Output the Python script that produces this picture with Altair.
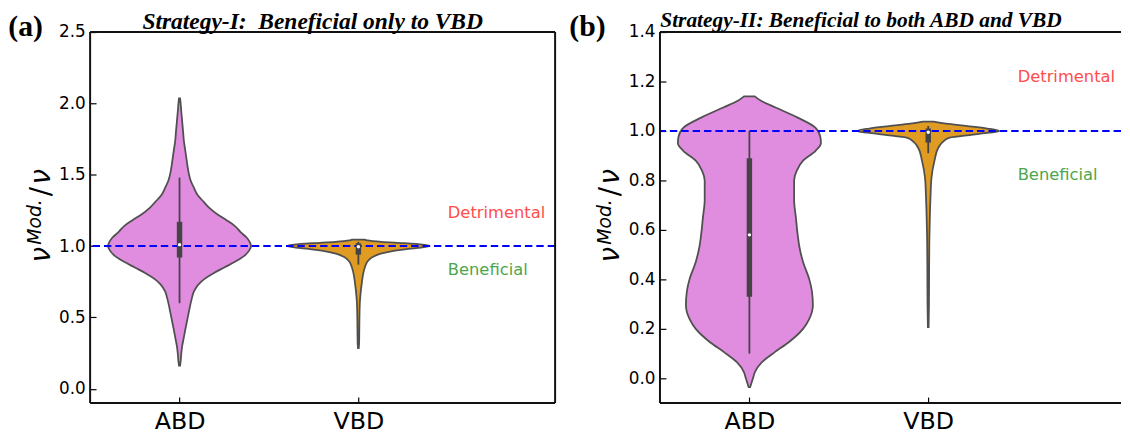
import altair as alt
import pandas as pd

# ---------------- values ----------------
# violin outlines: y value and half width (in category units)
A_ABD_Y  = [0.163, 0.19, 0.25, 0.30, 0.36, 0.42, 0.50, 0.57, 0.63, 0.68, 0.73, 0.77, 0.81, 0.85, 0.89,
            0.93, 0.97, 1.00, 1.03, 1.06, 1.10, 1.14, 1.18, 1.22, 1.27, 1.31, 1.36, 1.41, 1.46, 1.52,
            1.60, 1.67, 1.74, 1.80, 1.87, 1.94, 2.00, 2.035]
A_ABD_HW = [0.003, 0.006, 0.010, 0.015, 0.024, 0.033, 0.046, 0.057, 0.068, 0.080, 0.105, 0.14, 0.19, 0.25, 0.31,
            0.36, 0.39, 0.40, 0.392, 0.375, 0.34, 0.31, 0.265, 0.215, 0.165, 0.135, 0.10, 0.08, 0.062, 0.05,
            0.04, 0.032, 0.024, 0.02, 0.015, 0.01, 0.006, 0.003]

A_VBD_Y  = [0.285, 0.32, 0.40, 0.50, 0.60, 0.65, 0.70, 0.75, 0.80, 0.85, 0.89, 0.92, 0.945, 0.965, 0.98,
            0.99, 1.00, 1.01, 1.02, 1.03, 1.04, 1.045]
A_VBD_HW = [0.002, 0.004, 0.005, 0.006, 0.008, 0.011, 0.015, 0.020, 0.026, 0.036, 0.05, 0.075, 0.12, 0.19, 0.28,
            0.35, 0.40, 0.36, 0.26, 0.13, 0.05, 0.035]

B_ABD_Y  = [-0.036, 0.0, 0.024, 0.065, 0.105, 0.146, 0.20, 0.24, 0.295, 0.35, 0.40, 0.47, 0.53, 0.58, 0.65,
            0.72, 0.80, 0.84, 0.88, 0.92, 0.95, 0.975, 1.013, 1.054, 1.095, 1.12, 1.14]
B_ABD_HW = [0.004, 0.02, 0.03, 0.07, 0.14, 0.22, 0.30, 0.335, 0.355, 0.35, 0.335, 0.30, 0.28, 0.27, 0.26,
            0.25, 0.25, 0.265, 0.30, 0.37, 0.40, 0.397, 0.37, 0.27, 0.146, 0.07, 0.03]

B_VBD_Y  = [0.207, 0.30, 0.45, 0.55, 0.62, 0.68, 0.74, 0.81, 0.88, 0.93, 0.955, 0.973, 0.985, 0.993, 1.00,
            1.01, 1.02, 1.03, 1.038]
B_VBD_HW = [0.002, 0.004, 0.005, 0.006, 0.008, 0.010, 0.013, 0.018, 0.035, 0.055, 0.08, 0.12, 0.25, 0.34, 0.397,
            0.33, 0.22, 0.10, 0.03]

# inner box statistics: whisker low, q1, median, q3, whisker high
A_BOX = {"ABD": [0.60, 0.92, 1.01, 1.17, 1.48], "VBD": [0.87, 0.94, 0.995, 1.02, 1.03]}
B_BOX = {"ABD": [0.10, 0.33, 0.58, 0.89, 1.00], "VBD": [0.91, 0.953, 0.995, 1.01, 1.02]}

CATEGORIES = ["ABD", "VBD"]
A_YTICKS = [0.0, 0.5, 1.0, 1.5, 2.0, 2.5]
B_YTICKS = [0.0, 0.2, 0.4, 0.6, 0.8, 1.0, 1.2, 1.4]
A_YDOMAIN = [-0.1, 2.5]
B_YDOMAIN = [-0.1, 1.4]
REF_LINE = 1.0
ZONE_LABELS = ["Detrimental", "Beneficial"]
ZONE_Y = [1.2, 0.8]
ZONE_X = 1.5
TITLE_A = "Strategy-I:\u00a0 Beneficial only to VBD"
TITLE_B = "Strategy-II: Beneficial to both ABD and VBD"

# ---------------- style ----------------
VIOLET = "#E08DE0"
ORANGE = "#E09C22"
OUTLINE = "#505050"
INNER = "#444444"
FRAME = "#111111"
H = 375
W_A = 470
W_B = 466
PX_PER_UNIT = W_A / 2.6
XDOM_A = [-0.5, 2.1]
XDOM_B = [-0.5, -0.5 + W_B / PX_PER_UNIT]


def make_panel(yv_list, box, ydomain, yticks, xdomain, width, title, title_fs, title_y,
               tag, tag_dx, title_dx):
    xscale = alt.Scale(domain=xdomain, nice=False, zero=False)
    yscale = alt.Scale(domain=ydomain, nice=False, zero=False)
    xaxis = alt.Axis(values=[0, 1], labelExpr="datum.value == 0 ? 'ABD' : 'VBD'", title=None,
                     domain=False, grid=False, tickSize=6, offset=-6, tickColor="#000", tickWidth=1.2,
                     labelFont="DejaVu Sans", labelFontSize=24, labelColor="#000", labelPadding=7)
    yaxis = alt.Axis(values=yticks, format=".1f", title=None, domain=False, grid=False,
                     tickSize=6, offset=-6, tickColor="#000", tickWidth=1.2,
                     labelFont="DejaVu Sans", labelFontSize=17, labelColor="#000", labelPadding=5)

    def X(f):
        return alt.X(f, type="quantitative", scale=xscale, axis=xaxis)

    def Y(f):
        return alt.Y(f, type="quantitative", scale=yscale, axis=yaxis)

    layers = []
    for center, (ys, hws, fill) in enumerate(yv_list):
        df = pd.DataFrame({"y": ys,
                           "lo": [center - h for h in hws],
                           "hi": [center + h for h in hws]})
        layers.append(
            alt.Chart(df).mark_area(orient="horizontal", interpolate="monotone", color=fill,
                                    stroke=OUTLINE, strokeWidth=1.8, opacity=1)
            .encode(y=Y("y"), x=X("lo"), x2="hi")
        )

    # reference dashed line
    layers.append(
        alt.Chart(pd.DataFrame({"r": [REF_LINE]})).mark_rule(color="#0000FF", strokeWidth=2,
                                                            strokeDash=[7.5, 4])
        .encode(y=Y("r"))
    )

    bdf = pd.DataFrame({
        "x": [0, 1],
        "wlo": [box[c][0] for c in CATEGORIES],
        "q1": [box[c][1] for c in CATEGORIES],
        "med": [box[c][2] for c in CATEGORIES],
        "q3": [box[c][3] for c in CATEGORIES],
        "whi": [box[c][4] for c in CATEGORIES],
    })
    layers.append(alt.Chart(bdf).mark_rule(color=INNER, strokeWidth=1.8)
                  .encode(x=X("x"), y=Y("wlo"), y2="whi"))
    layers.append(alt.Chart(bdf).mark_rule(color=INNER, strokeWidth=5.5)
                  .encode(x=X("x"), y=Y("q1"), y2="q3"))
    layers.append(alt.Chart(bdf).mark_circle(color="white", size=12, opacity=1)
                  .encode(x=X("x"), y=Y("med")))

    # zone labels
    zdf = pd.DataFrame({"x": [ZONE_X, ZONE_X], "y": ZONE_Y, "t": ZONE_LABELS,
                        "c": ["#FF4D4D", "#4DA64D"]})
    layers.append(alt.Chart(zdf).mark_text(align="left", baseline="alphabetic",
                                           font="DejaVu Sans", fontSize=16.5)
                  .encode(x=X("x"), y=Y("y"), text="t:N",
                          color=alt.Color("c:N", scale=None)))

    # frame
    frame = [
        alt.Chart(pd.DataFrame({"v": [ydomain[1]]})).mark_rule(color=FRAME, strokeWidth=2).encode(y=Y("v")),
        alt.Chart(pd.DataFrame({"v": [ydomain[0]]})).mark_rule(color=FRAME, strokeWidth=2).encode(y=Y("v")),
        alt.Chart(pd.DataFrame({"v": [xdomain[0]]})).mark_rule(color=FRAME, strokeWidth=2).encode(x=X("v")),
    ]
    if width == W_A:
        frame.append(alt.Chart(pd.DataFrame({"v": [xdomain[1]]})).mark_rule(color=FRAME, strokeWidth=2)
                     .encode(x=X("v")))
    layers += frame

    one = pd.DataFrame({"a": [0]})
    # panel tag and title
    layers.append(alt.Chart(one).mark_text(align="left", baseline="alphabetic", font="Liberation Serif",
                                           fontWeight="bold", fontSize=30, color="#000")
                  .encode(x=alt.value(tag_dx), y=alt.value(4), text=alt.value(tag)))
    layers.append(alt.Chart(one).mark_text(align="left", baseline="alphabetic", font="Liberation Serif",
                                           fontWeight="bold", fontStyle="italic", fontSize=title_fs,
                                           color="#000")
                  .encode(x=alt.value(title_dx), y=alt.value(title_y), text=alt.value(title)))

    # y-axis label  nu^{Mod.}/nu (rotated)
    pieces = [("ν", -41, 233, 28, "italic"), ("Mod.", -50, 215, 19, "italic"),
              ("/", -41, 166, 28, "normal"), ("ν", -41, 154, 28, "italic")]
    for txt, px, py, fs, st in pieces:
        layers.append(alt.Chart(one).mark_text(align="left", baseline="alphabetic", angle=270,
                                               font="DejaVu Sans", fontStyle=st, fontSize=fs, color="#000")
                      .encode(x=alt.value(px), y=alt.value(py), text=alt.value(txt)))

    return alt.layer(*layers).properties(width=width, height=H)


panel_a = make_panel([(A_ABD_Y, A_ABD_HW, VIOLET), (A_VBD_Y, A_VBD_HW, ORANGE)], A_BOX,
                     A_YDOMAIN, A_YTICKS, XDOM_A, W_A, TITLE_A, 23.7, -3, "(a)", -82.7, 52.9)
panel_b = make_panel([(B_ABD_Y, B_ABD_HW, VIOLET), (B_VBD_Y, B_VBD_HW, ORANGE)], B_BOX,
                     B_YDOMAIN, B_YTICKS, XDOM_B, W_B, TITLE_B, 21.6, -5, "(b)", -91.7, 0.3)

chart = alt.hconcat(panel_a, panel_b, spacing=106, bounds="flush").properties(
    padding=0, background="white"
).configure_view(stroke=None)

chart.save("out.html", embed_options={"renderer": "svg", "actions": False})
